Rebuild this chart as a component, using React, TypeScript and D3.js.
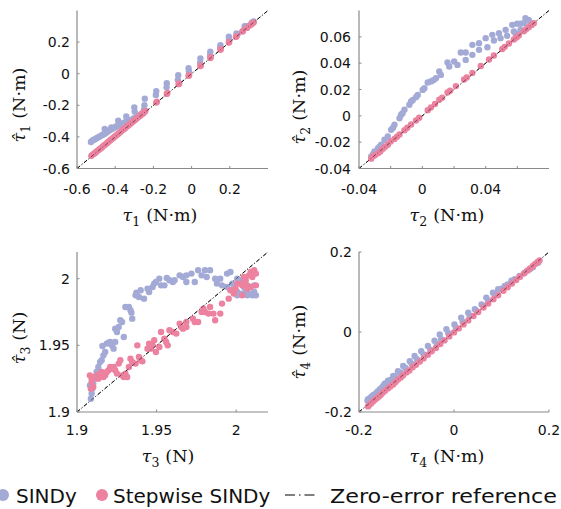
import React from 'react'
import * as d3 from 'd3'

// marker colours
const SINDY_COLOR = '#a3aad6'
const STEP_COLOR = '#ec829f'
const AXIS_COLOR = '#8a8a8a'

type Pt = [number, number]

// tau_1 : measured vs estimated
const sindyTau1: Pt[] = [
  [-0.527, -0.432], [-0.522, -0.425], [-0.515, -0.42], [-0.508, -0.416], [-0.5, -0.41],
  [-0.493, -0.405], [-0.485, -0.4], [-0.478, -0.395], [-0.47, -0.39], [-0.462, -0.385],
  [-0.455, -0.38], [-0.455, -0.35], [-0.448, -0.373], [-0.44, -0.367], [-0.432, -0.36],
  [-0.425, -0.355], [-0.42, -0.34], [-0.418, -0.35], [-0.41, -0.345], [-0.402, -0.34],
  [-0.395, -0.334], [-0.388, -0.33], [-0.384, -0.298], [-0.38, -0.326], [-0.373, -0.322],
  [-0.365, -0.318], [-0.358, -0.314], [-0.35, -0.31], [-0.342, -0.27], [-0.34, -0.29],
  [-0.335, -0.305], [-0.328, -0.3], [-0.32, -0.296], [-0.312, -0.292], [-0.305, -0.285],
  [-0.3, -0.213], [-0.298, -0.24], [-0.297, -0.28], [-0.29, -0.276], [-0.282, -0.27],
  [-0.275, -0.265], [-0.268, -0.26], [-0.262, -0.255], [-0.245, -0.158], [-0.247, -0.2],
  [-0.25, -0.23], [-0.253, -0.25],
  [-0.185, -0.11], [-0.187, -0.135], [-0.13, -0.06], [-0.131, -0.085],
  [-0.07, -0.01], [-0.072, -0.04], [-0.016, 0.035], [-0.014, 0.015],
  [0.046, 0.096], [0.045, 0.07], [0.098, 0.139], [0.097, 0.12],
  [0.151, 0.181], [0.15, 0.167], [0.195, 0.234], [0.196, 0.217],
  [0.235, 0.255], [0.24, 0.25], [0.278, 0.3], [0.285, 0.3], [0.315, 0.323], [0.325, 0.33],
]

const stepTau1: Pt[] = [
  [-0.525, -0.52], [-0.518, -0.512], [-0.51, -0.505], [-0.502, -0.498], [-0.495, -0.49],
  [-0.487, -0.483], [-0.48, -0.476], [-0.472, -0.468], [-0.465, -0.46], [-0.457, -0.453],
  [-0.45, -0.446], [-0.442, -0.438], [-0.435, -0.43], [-0.427, -0.423], [-0.42, -0.415],
  [-0.412, -0.408], [-0.405, -0.4], [-0.397, -0.393], [-0.39, -0.386], [-0.382, -0.378],
  [-0.375, -0.371], [-0.367, -0.363], [-0.36, -0.355], [-0.352, -0.348], [-0.345, -0.341],
  [-0.337, -0.333], [-0.33, -0.326], [-0.322, -0.318], [-0.315, -0.311], [-0.307, -0.303],
  [-0.3, -0.296], [-0.292, -0.288], [-0.285, -0.281], [-0.277, -0.273], [-0.27, -0.266],
  [-0.262, -0.258], [-0.255, -0.25], [-0.248, -0.243], [-0.242, -0.236],
  [-0.185, -0.183], [-0.182, -0.178], [-0.13, -0.128], [-0.127, -0.122],
  [-0.068, -0.066], [-0.065, -0.062], [-0.016, -0.013], [-0.013, -0.01],
  [0.046, 0.048], [0.048, 0.052], [0.098, 0.1], [0.1, 0.104],
  [0.151, 0.152], [0.153, 0.156], [0.195, 0.197], [0.197, 0.2],
  [0.232, 0.233], [0.236, 0.238], [0.265, 0.266], [0.27, 0.272],
  [0.29, 0.29], [0.305, 0.305], [0.315, 0.314], [0.325, 0.324],
]

// tau_2
const sindyTau2: Pt[] = [
  [-0.0323, -0.0309], [-0.0302, -0.0271], [-0.028, -0.0246], [-0.026, -0.022], [-0.0239, -0.0182],
  [-0.0218, -0.0157], [-0.0197, -0.0106], [-0.0176, -0.0068], [-0.0144, -0.0018], [-0.0134, 0.0008],
  [-0.0113, 0.0046], [-0.0082, 0.0084], [-0.0071, 0.0109], [-0.004, 0.0142], [-0.0029, 0.0159],
  [0.0002, 0.0197], [0.0013, 0.021], [0.0034, 0.0253], [0.0054, 0.0261], [0.0086, 0.0286],
  [0.0107, 0.0337], [0.0117, 0.0311], [0.0159, 0.0405], [0.017, 0.0375], [0.0201, 0.0413],
  [0.0222, 0.0387], [0.0243, 0.0481], [0.0274, 0.0481], [0.0274, 0.0425], [0.0316, 0.0463],
  [0.0316, 0.0539], [0.0358, 0.0552], [0.0358, 0.0501], [0.04, 0.059], [0.0411, 0.0521],
  [0.0442, 0.0615], [0.0452, 0.0572], [0.0484, 0.0628], [0.0494, 0.059], [0.0526, 0.0653],
  [0.0536, 0.0608], [0.0568, 0.0691], [0.0578, 0.0641], [0.0599, 0.0699], [0.062, 0.0699],
  [0.0641, 0.0704], [0.0651, 0.0742], [0.0672, 0.0729], [0.0683, 0.0704], [0.062, 0.0653],
  [0.0589, 0.0623], [-0.031, -0.029], [-0.027, -0.0235], [-0.0185, -0.009], [-0.0125, 0.002],
  [-0.006, 0.012], [0.007, 0.027],
]

const stepTau2: Pt[] = [
  [-0.0323, -0.0325], [-0.031, -0.0305], [-0.03, -0.03], [-0.028, -0.0285], [-0.0265, -0.027],
  [-0.0249, -0.025], [-0.0235, -0.0235], [-0.0218, -0.022], [-0.02, -0.0195], [-0.0176, -0.0175],
  [-0.016, -0.0158], [-0.0144, -0.0142], [-0.0113, -0.011], [-0.0095, -0.009], [-0.0071, -0.0066],
  [-0.004, -0.0035], [-0.002, -0.0015], [0.0034, 0.0042], [0.0054, 0.0063], [0.008, 0.009],
  [0.0107, 0.0122], [0.0125, 0.0138], [0.0159, 0.0178], [0.0175, 0.019], [0.0212, 0.0226],
  [0.0264, 0.0276], [0.028, 0.0292], [0.0316, 0.0326], [0.0369, 0.0378], [0.0421, 0.0428],
  [0.0452, 0.0458], [0.0505, 0.0508], [0.052, 0.0524], [0.0547, 0.0549], [0.0578, 0.058],
  [0.0595, 0.0595], [0.0609, 0.061], [0.0641, 0.0642], [0.0655, 0.0658], [0.0672, 0.0673],
  [0.069, 0.069], [0.0704, 0.0704],
]

// tau_3
const sindyTau3: Pt[] = [
  [1.9087, 1.91], [1.9092, 1.9138], [1.9096, 1.9175], [1.9102, 1.9213], [1.9081, 1.92],
  [1.9113, 1.925], [1.9123, 1.93], [1.9134, 1.9338], [1.9145, 1.9375], [1.9155, 1.9388],
  [1.9166, 1.9425], [1.916, 1.9495], [1.9177, 1.945], [1.9187, 1.9513], [1.9198, 1.952],
  [1.9209, 1.9525], [1.9219, 1.95], [1.923, 1.9475], [1.924, 1.9525], [1.9251, 1.96],
  [1.924, 1.9625], [1.9262, 1.9638], [1.9272, 1.9688], [1.9283, 1.9675], [1.9294, 1.9563],
  [1.9304, 1.9788], [1.9326, 1.9788], [1.9336, 1.9763], [1.9342, 1.9745], [1.9347, 1.97],
  [1.9368, 1.9875], [1.9373, 1.9895], [1.9389, 1.9863], [1.94, 1.9913], [1.9421, 1.985],
  [1.9443, 1.9925], [1.9453, 1.99], [1.9475, 1.9938], [1.9485, 1.9963], [1.9496, 1.9975],
  [1.9517, 2.0], [1.9528, 1.995], [1.9549, 1.995], [1.9564, 2.0005], [1.9581, 1.9988],
  [1.9602, 1.9975], [1.9613, 1.9988], [1.9645, 2.0025], [1.9666, 2.0013], [1.9687, 2.0025],
  [1.9687, 1.9975], [1.9719, 2.0038], [1.974, 1.9975], [1.9761, 2.0063], [1.9783, 2.0025],
  [1.9804, 2.0063], [1.9815, 2.0013], [1.9836, 2.0063], [1.9868, 2.0], [1.9879, 1.9963],
  [1.99, 2.0], [1.9911, 1.995], [1.9943, 2.0038], [1.9943, 1.9938], [1.9964, 2.005],
  [1.9975, 1.9963], [1.9985, 1.9925], [2.0007, 2.0], [2.0028, 1.9988], [2.0049, 1.9975],
  [2.006, 1.99], [2.007, 1.9875], [2.0081, 1.9888], [2.0102, 1.9875], [2.0113, 1.99],
  [2.0124, 1.9875], [2.0113, 1.995], [2.0081, 1.9938], [2.0049, 1.9938], [2.0007, 1.99],
  [2.0007, 1.9875], [2.0038, 1.9888],
]

const stepTau3: Pt[] = [
  [1.9081, 1.9275], [1.9092, 1.925], [1.9092, 1.9225], [1.9102, 1.9188], [1.9087, 1.9175],
  [1.9113, 1.9263], [1.9123, 1.9275], [1.9134, 1.925], [1.9145, 1.9288], [1.9155, 1.93],
  [1.9166, 1.9263], [1.9177, 1.9275], [1.9187, 1.93], [1.9198, 1.9313], [1.9209, 1.9338],
  [1.9219, 1.9325], [1.923, 1.9338], [1.924, 1.9313], [1.9251, 1.9288], [1.9262, 1.9363],
  [1.9272, 1.9388], [1.9283, 1.9275], [1.9294, 1.9263], [1.9304, 1.9288], [1.9315, 1.9263],
  [1.9326, 1.9338], [1.9336, 1.94], [1.9347, 1.9375], [1.9368, 1.9363], [1.9379, 1.95],
  [1.9389, 1.9413], [1.94, 1.9388], [1.9411, 1.938], [1.9443, 1.9475], [1.9453, 1.9513],
  [1.9464, 1.9475], [1.9475, 1.95], [1.9485, 1.9538], [1.9496, 1.945], [1.9517, 1.9488],
  [1.9528, 1.96], [1.9549, 1.955], [1.956, 1.9525], [1.957, 1.95], [1.9581, 1.9613],
  [1.9602, 1.96], [1.9624, 1.9588], [1.9645, 1.9663], [1.9655, 1.9638], [1.9666, 1.9625],
  [1.9687, 1.9675], [1.9687, 1.9638], [1.9729, 1.97], [1.974, 1.9675], [1.9761, 1.9675],
  [1.9783, 1.975], [1.9794, 1.9775], [1.9804, 1.975], [1.9826, 1.9738], [1.9836, 1.9788],
  [1.9857, 1.9738], [1.9868, 1.9688], [1.99, 1.9738], [1.9911, 1.9813], [1.9953, 1.985],
  [1.9964, 1.9913], [1.9985, 1.9888], [1.9996, 1.9925], [2.0007, 1.9963], [2.0028, 1.9963],
  [2.0038, 1.995], [2.0049, 2.0013], [2.006, 1.9988], [2.007, 1.995], [2.0081, 2.0025],
  [2.0091, 2.005], [2.0102, 2.0013], [2.0113, 2.0063], [2.0124, 2.0038], [2.0124, 1.995],
  [2.0091, 1.9938], [2.007, 1.9925], [2.0038, 1.9875],
]

// tau_4
const sindyTau4: Pt[] = [
  [-0.182, -0.172], [-0.181, -0.168], [-0.177, -0.166], [-0.174, -0.162], [-0.17, -0.158],
  [-0.167, -0.156], [-0.163, -0.152], [-0.16, -0.148], [-0.156, -0.143], [-0.152, -0.139],
  [-0.149, -0.135], [-0.146, -0.129], [-0.142, -0.128], [-0.139, -0.122], [-0.134, -0.12],
  [-0.128, -0.11], [-0.124, -0.112], [-0.118, -0.098], [-0.113, -0.101], [-0.107, -0.085],
  [-0.102, -0.09], [-0.093, -0.073], [-0.089, -0.08], [-0.083, -0.06], [-0.078, -0.068],
  [-0.069, -0.048], [-0.064, -0.056], [-0.055, -0.035], [-0.05, -0.044], [-0.041, -0.022],
  [-0.036, -0.031], [-0.03, -0.006], [-0.027, -0.018], [-0.016, 0.007], [-0.012, -0.003],
  [0.001, 0.019], [0.004, 0.01], [0.015, 0.036], [0.018, 0.026], [0.03, 0.048],
  [0.033, 0.04], [0.044, 0.057], [0.048, 0.052], [0.058, 0.069], [0.062, 0.066],
  [0.068, 0.086], [0.072, 0.078], [0.082, 0.098], [0.086, 0.093], [0.093, 0.107],
  [0.1, 0.108], [0.107, 0.115], [0.113, 0.119], [0.121, 0.128], [0.128, 0.132],
  [0.138, 0.14], [0.149, 0.148], [0.159, 0.156], [0.166, 0.162], [0.177, 0.173],
]

const stepTau4: Pt[] = [
  [-0.181, -0.186], [-0.178, -0.182], [-0.174, -0.178], [-0.17, -0.173], [-0.166, -0.169],
  [-0.162, -0.165], [-0.158, -0.161], [-0.154, -0.157], [-0.15, -0.152], [-0.145, -0.147],
  [-0.139, -0.141], [-0.134, -0.136], [-0.128, -0.131], [-0.123, -0.125], [-0.118, -0.119],
  [-0.112, -0.114], [-0.107, -0.108], [-0.1, -0.101], [-0.094, -0.096], [-0.087, -0.088],
  [-0.08, -0.082], [-0.072, -0.074], [-0.064, -0.066], [-0.055, -0.057], [-0.047, -0.048],
  [-0.038, -0.04], [-0.029, -0.03], [-0.02, -0.021], [-0.01, -0.011], [0.0, -0.001],
  [0.01, 0.009], [0.02, 0.019], [0.03, 0.029], [0.041, 0.04], [0.051, 0.05],
  [0.062, 0.061], [0.072, 0.071], [0.083, 0.082], [0.093, 0.092], [0.104, 0.103],
  [0.113, 0.112], [0.122, 0.121], [0.131, 0.13], [0.139, 0.138], [0.147, 0.146],
  [0.154, 0.153], [0.16, 0.159], [0.166, 0.165], [0.171, 0.17], [0.176, 0.175], [0.18, 0.179],
]

// axis limits and ticks
const limits: [number, number][] = [[-0.6, 0.4], [-0.04, 0.08], [1.9, 2.02], [-0.2, 0.2]]
const xTickValues = [
  [-0.6, -0.4, -0.2, 0, 0.2],
  [-0.04, -0.02, 0, 0.02, 0.04, 0.06],
  [1.9, 1.95, 2],
  [-0.2, 0, 0.2],
]
const xTickLabels = [
  [-0.6, -0.4, -0.2, 0, 0.2],
  [-0.04, 0, 0.04],
  [1.9, 1.95, 2],
  [-0.2, 0, 0.2],
]
const yTickValues = [
  [-0.6, -0.4, -0.2, 0, 0.2],
  [-0.04, -0.02, 0, 0.02, 0.04, 0.06],
  [1.9, 1.95, 2],
  [-0.2, 0, 0.2],
]
const subscripts = ['1', '2', '3', '4']
const units = ['N·m', 'N·m', 'N', 'N·m']

const sindySets = [sindyTau1, sindyTau2, sindyTau3, sindyTau4]
const stepSets = [stepTau1, stepTau2, stepTau3, stepTau4]

// panel placement (pixels)
const frames = [
  { x: [77, 268], y: [168.5, 10.5], xTickY: 194, xLab: [160, 221], yLab: [25, 105], yTickX: 70 },
  { x: [359, 549], y: [168.5, 10.5], xTickY: 194, xLab: [447, 221], yLab: [305, 107], yTickX: 351 },
  { x: [77, 268], y: [412, 252], xTickY: 435, xLab: [168, 462], yLab: [25, 338], yTickX: 70 },
  { x: [359, 549], y: [412, 252], xTickY: 435, xLab: [447, 462], yLab: [305, 342], yTickX: 352 },
]

const SANS = 'DejaVu Sans, sans-serif'
const SERIF = 'DejaVu Serif, serif'

function Label({ hat, sub, unit }: { hat: boolean; sub: string; unit: string }) {
  return (
    <>
      <tspan fontStyle="italic">{hat ? 'τ\u0302' : 'τ'}</tspan>
      <tspan fontSize={12.5} dy={5}>{sub}</tspan>
      <tspan dy={-5} dx={6}>({unit})</tspan>
    </>
  )
}

function Panel({ i }: { i: number }) {
  const f = frames[i]
  const [lo, hi] = limits[i]
  const x = d3.scaleLinear().domain([lo, hi]).range(f.x)
  const y = d3.scaleLinear().domain([lo, hi]).range(f.y)
  const tickLen = 2.5
  return (
    <g>
      {/* zero-error reference */}
      <line
        x1={x(lo)} y1={y(lo)} x2={x(hi)} y2={y(hi)}
        stroke="#000" strokeWidth={0.9} strokeDasharray="4 2 1 2"
      />
      {sindySets[i].map((d, k) => (
        <circle key={'a' + k} cx={x(d[0])} cy={y(d[1])} r={3.2} fill={SINDY_COLOR} />
      ))}
      {stepSets[i].map((d, k) => (
        <circle key={'b' + k} cx={x(d[0])} cy={y(d[1])} r={3.2} fill={STEP_COLOR} />
      ))}
      <line
        x1={x(lo)} y1={y(lo)} x2={x(hi)} y2={y(hi)}
        stroke="#000" strokeWidth={0.9} strokeDasharray="4 2 1 2" opacity={0.55}
      />

      {/* axes */}
      <line x1={f.x[0]} x2={f.x[1]} y1={f.y[0]} y2={f.y[0]} stroke={AXIS_COLOR} strokeWidth={1.2} />
      <line x1={f.x[0]} x2={f.x[0]} y1={f.y[0]} y2={f.y[1]} stroke={AXIS_COLOR} strokeWidth={1.2} />
      {xTickValues[i].map(t => (
        <line key={'xt' + t} x1={x(t)} x2={x(t)} y1={f.y[0]} y2={f.y[0] - tickLen} stroke={AXIS_COLOR} />
      ))}
      {yTickValues[i].map(t => (
        <line key={'yt' + t} x1={f.x[0]} x2={f.x[0] + tickLen} y1={y(t)} y2={y(t)} stroke={AXIS_COLOR} />
      ))}
      {xTickLabels[i].map(t => (
        <text key={'xl' + t} x={x(t)} y={f.xTickY} textAnchor="middle" fontFamily={SANS} fontSize={14} fill="#111">
          {String(t)}
        </text>
      ))}
      {yTickValues[i].map(t => (
        <text key={'yl' + t} x={f.yTickX} y={y(t)} dy="0.36em" textAnchor="end" fontFamily={SANS} fontSize={14} fill="#111">
          {String(t)}
        </text>
      ))}

      <text x={f.xLab[0]} y={f.xLab[1]} textAnchor="middle" fontFamily={SERIF} fontSize={17.5} fill="#111">
        <Label hat={false} sub={subscripts[i]} unit={units[i]} />
      </text>
      <text
        transform={`translate(${f.yLab[0]},${f.yLab[1]}) rotate(-90)`}
        textAnchor="middle" fontFamily={SERIF} fontSize={17.5} fill="#111"
      >
        <Label hat={true} sub={subscripts[i]} unit={units[i]} />
      </text>
    </g>
  )
}

export default function App() {
  return (
    <svg width={561} height={509} style={{ position: 'absolute', left: 0, top: 0, background: '#fff' }}>
      {[0, 1, 2, 3].map(i => <Panel key={i} i={i} />)}

      {/* legend */}
      <g fontFamily={SANS} fontSize={20} fill="#111">
        <circle cx={3} cy={495} r={6} fill={SINDY_COLOR} />
        <text x={16} y={503}>SINDy</text>
        <circle cx={102} cy={495} r={6} fill={STEP_COLOR} />
        <text x={113} y={503}>Stepwise SINDy</text>
        <line x1={285} x2={318} y1={495} y2={495} stroke="#000" strokeWidth={1.2} strokeDasharray="10 4 1.5 4" />
        <text x={330} y={503} textLength={227} lengthAdjust="spacingAndGlyphs">Zero-error reference</text>
      </g>
    </svg>
  )
}
